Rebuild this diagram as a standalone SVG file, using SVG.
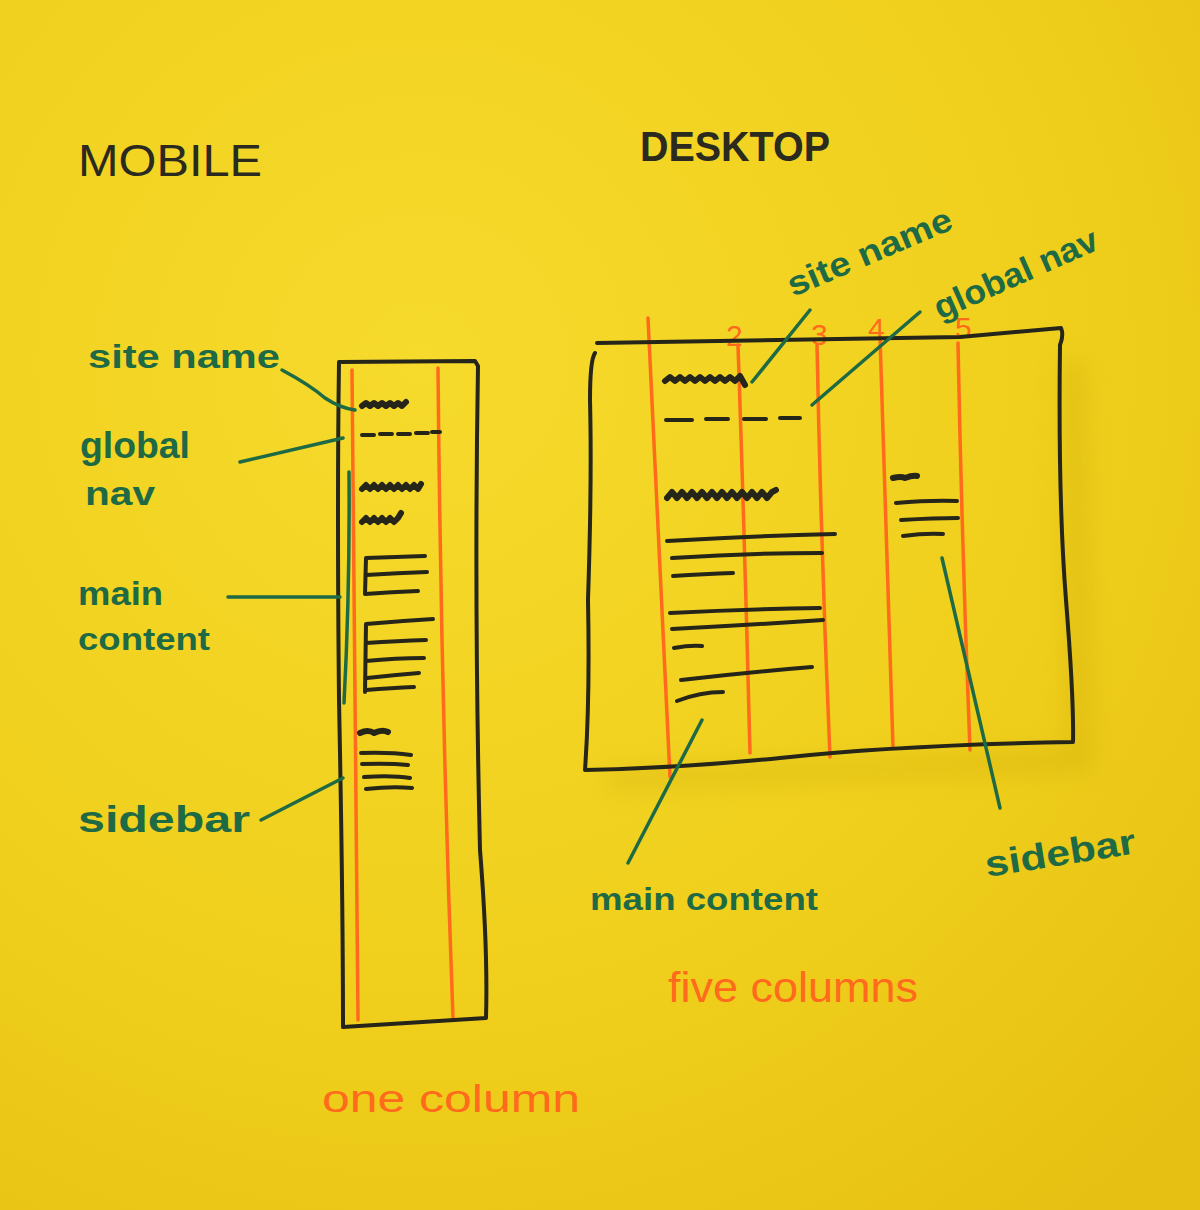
<svg xmlns="http://www.w3.org/2000/svg" width="1200" height="1210" viewBox="0 0 1200 1210">
<defs>
<radialGradient id="paper" cx="0.35" cy="0.3" r="0.9">
<stop offset="0" stop-color="#F6DA2C"/>
<stop offset="0.6" stop-color="#F0CF1C"/>
<stop offset="1" stop-color="#E6C012"/>
</radialGradient>
<filter id="blur" x="-20%" y="-20%" width="140%" height="140%"><feGaussianBlur stdDeviation="12"/></filter>
<style>
.ink{fill:none;stroke:#26251a;stroke-width:4;stroke-linecap:round;stroke-linejoin:round}
.txt{fill:none;stroke:#26251a;stroke-width:5;stroke-linecap:round;stroke-linejoin:round}
.sq{fill:none;stroke:#26251a;stroke-width:6;stroke-linecap:round;stroke-linejoin:round}
.col{fill:none;stroke:#FF6A1C;stroke-width:3.5;stroke-linecap:round}
.lead{fill:none;stroke:#1E6A45;stroke-width:3.5;stroke-linecap:round;stroke-linejoin:round}
.g{fill:#1E6A45;font-family:"Liberation Sans",Arial,sans-serif;font-weight:bold}
.o{fill:#FF6A1C;font-family:"Liberation Sans",Arial,sans-serif}
.h{fill:#2a2a1e;font-family:"Liberation Sans",Arial,sans-serif}
</style>
</defs>
<rect width="1200" height="1210" fill="url(#paper)"/>
<path d="M1060 360 L1085 360 L1092 770 L610 790 L600 770 L1070 750 Z" fill="#B89A00" opacity="0.25" filter="url(#blur)"/>

<g id="titles">
<text class="h" x="78" y="176" font-size="44" textLength="184" lengthAdjust="spacingAndGlyphs">MOBILE</text>
<text class="h" x="640" y="161" font-size="42" font-weight="bold" textLength="190" lengthAdjust="spacingAndGlyphs">DESKTOP</text>
</g>

<g id="mobile">
<g id="mobile-columns">
<path class="col" d="M352 370 Q355 700 358 1020"/>
<path class="col" d="M438 368 Q441 700 453 1018"/>
</g>
<path id="mobile-frame" class="ink" d="M339 362 L475 361 L478 366 Q474 600 480 850 Q488 950 486 1018 L343 1027 Q343 900 339 700 Q337 500 339 362"/>
<g id="mobile-content">
<path class="sq" d="M362 406 l4 -3 l4 3 l4 -3 l4 3 l4 -3 l4 3 l4 -3 l4 3 l4 -3 l4 3 l4 -4"/>
<path class="ink" d="M362 435 h12 M380 434 h12 M398 434 h12 M416 433 h12 M432 432 h8" stroke-width="5"/>
<path class="sq" d="M362 489 l4 -4 l4 4 l4 -4 l4 4 l4 -4 l4 4 l4 -4 l4 4 l4 -4 l4 4 l4 -4 l4 4 l4 -4 l4 4 l3 -5"/>
<path class="sq" d="M362 522 l4 -4 l4 4 l4 -4 l4 4 l4 -4 l4 4 l4 -4 l4 4 l4 -4 l3 -5"/>
<path class="ink" d="M425 556 Q395 557 366 558 L365 594 Q392 592 418 591 M366 575 Q398 573 427 572"/>
<path class="ink" d="M366 624 Q400 621 433 619 M366 624 L365 692 M366 643 Q398 641 426 640 M366 661 Q396 658 424 658 M367 678 Q394 675 419 673 M366 690 Q392 688 414 687"/>
<path class="sq" d="M360 733 q8 -4 14 0 q8 -4 14 -1" stroke-width="5"/>
<path class="ink" d="M361 753 Q390 752 411 755 M362 764 Q390 763 408 765 M364 777 Q392 775 410 778 M366 789 Q392 786 412 788"/>
</g>
</g>

<g id="desktop">
<g id="desktop-columns">
<path class="col" d="M648 318 Q660 550 670 777"/>
<path class="col" d="M738 345 Q745 550 750 753"/>
<path class="col" d="M817 345 Q821 550 830 757"/>
<path class="col" d="M880 337 Q886 550 893 747"/>
<path class="col" d="M958 343 Q962 550 970 750"/>
</g>
<g id="column-numbers">
<text class="o" x="726" y="346" font-size="30">2</text>
<text class="o" x="811" y="345" font-size="30">3</text>
<text class="o" x="868" y="339" font-size="30">4</text>
<text class="o" x="955" y="338" font-size="30">5</text>
</g>
<path id="desktop-frame" class="ink" d="M597 343 Q800 340 960 337 L1061 328 Q1064 335 1060 345 Q1058 500 1066 600 Q1074 700 1073 742 Q900 745 780 758 Q680 768 585 770 Q590 700 588 600 Q592 480 590 400 Q590 360 595 353"/>
<g id="desktop-content">
<path class="sq" d="M665 381 l5 -4 l5 4 l5 -4 l5 4 l5 -4 l5 4 l5 -4 l5 4 l5 -4 l5 4 l5 -4 l5 4 l5 -4 l5 4 l5 -5 l5 9"/>
<path class="ink" d="M666 420 h26 M706 419 h22 M744 419 h22 M780 418 h20" stroke-width="5"/>
<path class="sq" d="M667 498 l5 -6 l5 6 l5 -6 l5 6 l5 -6 l5 6 l5 -6 l5 6 l5 -6 l5 6 l5 -6 l5 6 l5 -6 l5 6 l5 -6 l5 6 l5 -6 l5 6 l5 -6 l5 6 l5 -6 l4 -2" stroke-width="5"/>
<path class="ink" d="M667 541 Q750 536 835 534 M672 558 Q750 553 822 553 M673 576 Q705 574 733 573 M670 613 Q745 609 820 608 M672 629 Q750 625 823 620 M674 648 Q690 645 702 646 M681 680 Q750 672 812 667 M677 701 Q700 692 723 692"/>
<path class="sq" d="M893 478 q8 -2 12 0 q8 -3 12 -2" stroke-width="5"/>
<path class="ink" d="M896 503 Q930 500 957 501 M901 520 Q935 518 958 518 M903 536 Q925 533 943 534"/>
</g>
</g>

<g id="connectors">
<path class="lead" d="M282 370 Q310 385 325 398 Q340 408 355 410"/>
<path class="lead" d="M240 462 Q300 448 343 438"/>
<path class="lead" d="M228 597 L340 597"/>
<path class="lead" d="M349 472 Q350 590 344 703"/>
<path class="lead" d="M261 820 L343 778"/>
<path class="lead" d="M810 310 L752 382"/>
<path class="lead" d="M920 312 L812 405"/>
<path class="lead" d="M702 720 L628 863"/>
<path class="lead" d="M942 558 L1000 808"/>
</g>

<g id="labels">
<text class="g" x="88" y="368" font-size="34" textLength="192" lengthAdjust="spacingAndGlyphs">site name</text>
<text class="g" x="80" y="458" font-size="36" textLength="110" lengthAdjust="spacingAndGlyphs">global</text>
<text class="g" x="85" y="505" font-size="34" textLength="70" lengthAdjust="spacingAndGlyphs">nav</text>
<text class="g" x="78" y="605" font-size="34" textLength="85" lengthAdjust="spacingAndGlyphs">main</text>
<text class="g" x="78" y="650" font-size="32" textLength="132" lengthAdjust="spacingAndGlyphs">content</text>
<text class="g" x="78" y="832" font-size="36" textLength="172" lengthAdjust="spacingAndGlyphs">sidebar</text>
<text class="g" x="793" y="297" font-size="34" textLength="176" lengthAdjust="spacingAndGlyphs" transform="rotate(-23 793 297)">site name</text>
<text class="g" x="940" y="320" font-size="34" textLength="176" lengthAdjust="spacingAndGlyphs" transform="rotate(-24 940 320)">global nav</text>
<text class="g" x="590" y="910" font-size="32" textLength="228" lengthAdjust="spacingAndGlyphs">main content</text>
<text class="g" x="987" y="877" font-size="36" textLength="152" lengthAdjust="spacingAndGlyphs" transform="rotate(-9 987 877)">sidebar</text>
<text class="o" x="322" y="1112" font-size="38" textLength="258" lengthAdjust="spacingAndGlyphs">one column</text>
<text class="o" x="668" y="1002" font-size="42" textLength="250" lengthAdjust="spacingAndGlyphs">five columns</text>
</g>
</svg>
